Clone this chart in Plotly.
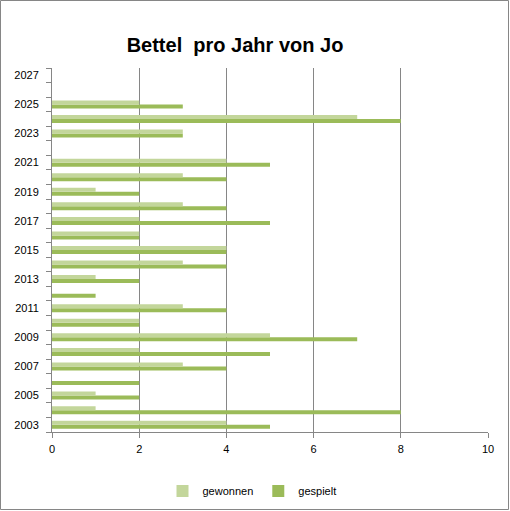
import plotly.graph_objects as go

# Bettel pro Jahr: gewonnen / gespielt per year
years = list(range(2003, 2028))
gewonnen = [4, 1, 1, 0, 3, 2, 5, 2, 3, 0, 1, 3, 4, 2, 2, 3, 1, 3, 4, None, 3, 7, 2, None, None]
gespielt = [5, 8, 2, 2, 4, 5, 7, 2, 4, 1, 2, 4, 4, 2, 5, 4, 2, 4, 5, None, 3, 8, 3, None, None]
x_ticks = [0, 2, 4, 6, 8, 10]
y_ticks = list(range(2003, 2028, 2))

W, H = 510, 511
ml, mr, mt, mb = 52, 22, 68, 79
pw, ph = W - ml - mr, H - mt - mb

fig = go.Figure()
# plotly stacks grouped h-bars bottom-up, so add gespielt first to put gewonnen on top
fig.add_trace(go.Bar(y=years, x=gespielt, orientation="h", name="gespielt",
                     marker=dict(color="#9BBB59", line=dict(width=0)), legendrank=2))
fig.add_trace(go.Bar(y=years, x=gewonnen, orientation="h", name="gewonnen",
                     marker=dict(color="#C3D69B", line=dict(width=0)), legendrank=1))

fig.update_layout(
    width=W, height=H,
    margin=dict(l=ml, r=mr, t=mt, b=mb, autoexpand=False),
    paper_bgcolor="white", plot_bgcolor="white",
    barmode="group", bargap=0.45, bargroupgap=0,
    font=dict(family="Liberation Sans, Arial, sans-serif", size=11, color="black"),
    title=dict(text="<b>Bettel  pro Jahr von Jo</b>", x=235 / W, xanchor="center",
               y=1 - 45 / H, yanchor="middle", font=dict(size=20), automargin=False),
    showlegend=True,
    legend=dict(orientation="h", x=(252 - ml) / pw, xanchor="center",
                y=-(491 - (H - mb)) / ph, yanchor="middle",
                font=dict(size=11), itemwidth=30, traceorder="normal"),
    xaxis=dict(range=[0, 10], tickvals=x_ticks, showgrid=True, gridcolor="#868686",
               gridwidth=1, zeroline=False, showline=True, linecolor="#868686",
               ticks="outside", ticklen=5, tickcolor="#868686", fixedrange=True,
               automargin=False, ticklabelstandoff=2),
    yaxis=dict(range=[2002.5, 2027.5], tickvals=y_ticks, showgrid=False, zeroline=False,
               showline=True, linecolor="#868686", ticks="", ticklen=0, automargin=False,
               ticklabelstandoff=10, fixedrange=True,
               minor=dict(tick0=2002.5, dtick=1, ticks="outside", ticklen=5,
                          tickcolor="#868686", showgrid=False)),
)

# outer chart border
fig.add_shape(type="rect", xref="paper", yref="paper",
              x0=-(ml - 0.5) / pw, x1=1 + (mr - 1.5) / pw,
              y0=-(mb - 1.5) / ph, y1=1 + (mt - 0.5) / ph,
              line=dict(color="#868686", width=1), fillcolor="rgba(0,0,0,0)", layer="below")

# drop the browser's default 8px body margin so the chart sits at the window corner
fig.write_html("out.html", config={"displayModeBar": False},
               post_script="document.body.style.margin='0';")
